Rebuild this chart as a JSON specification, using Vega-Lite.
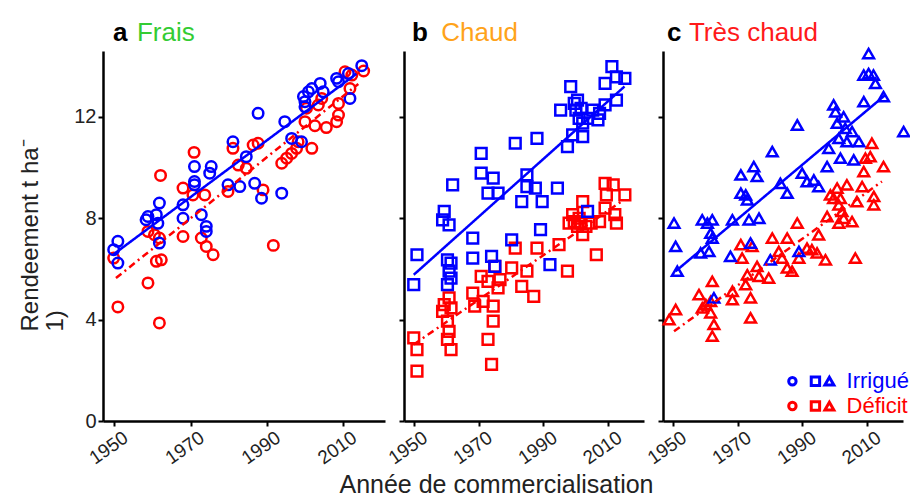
{
"$schema": "https://vega.github.io/schema/vega-lite/v6.json",
"padding": {"left": 18, "top": 19, "right": 0, "bottom": 0},
"spacing": 19,
"bounds": "flush",
"resolve": {"scale": {"x": "independent", "y": "independent"}},
"datasets": {
"one": [{}],
"pts": [
{"panel":"a","group":"Déficit","year":1949.8,"yield":6.43},{"panel":"a","group":"Déficit","year":1950.9,"yield":4.5},{"panel":"a","group":"Déficit","year":1958.8,"yield":5.45},{"panel":"a","group":"Déficit","year":1961.8,"yield":3.87},{"panel":"a","group":"Déficit","year":1962.1,"yield":9.69},{"panel":"a","group":"Déficit","year":1961,"yield":6.3},{"panel":"a","group":"Déficit","year":1962.3,"yield":6.36},{"panel":"a","group":"Déficit","year":1958.8,"yield":7.48},{"panel":"a","group":"Déficit","year":1960.5,"yield":7.35},{"panel":"a","group":"Déficit","year":1961.8,"yield":7.22},{"panel":"a","group":"Déficit","year":1968,"yield":9.19},{"panel":"a","group":"Déficit","year":1968,"yield":7.28},{"panel":"a","group":"Déficit","year":1970.9,"yield":10.6},{"panel":"a","group":"Déficit","year":1970.6,"yield":8.92},{"panel":"a","group":"Déficit","year":1972.8,"yield":7.22},{"panel":"a","group":"Déficit","year":1973.7,"yield":8.92},{"panel":"a","group":"Déficit","year":1974.1,"yield":6.89},{"panel":"a","group":"Déficit","year":1975.9,"yield":6.56},{"panel":"a","group":"Déficit","year":1979.8,"yield":9.06},{"panel":"a","group":"Déficit","year":1981.1,"yield":10.76},{"panel":"a","group":"Déficit","year":1982.5,"yield":10.1},{"panel":"a","group":"Déficit","year":1984.6,"yield":9.97},{"panel":"a","group":"Déficit","year":1986.4,"yield":10.89},{"panel":"a","group":"Déficit","year":1987.7,"yield":10.96},{"panel":"a","group":"Déficit","year":1989,"yield":9.12},{"panel":"a","group":"Déficit","year":1991.7,"yield":6.93},{"panel":"a","group":"Déficit","year":1993.9,"yield":10.17},{"panel":"a","group":"Déficit","year":1995.2,"yield":10.37},{"panel":"a","group":"Déficit","year":1996.5,"yield":10.56},{"panel":"a","group":"Déficit","year":1997.8,"yield":10.76},{"panel":"a","group":"Déficit","year":1998.2,"yield":11.02},{"panel":"a","group":"Déficit","year":2001.8,"yield":10.76},{"panel":"a","group":"Déficit","year":2000,"yield":11.81},{"panel":"a","group":"Déficit","year":2000.4,"yield":12.34},{"panel":"a","group":"Déficit","year":2002.6,"yield":11.65},{"panel":"a","group":"Déficit","year":2004.4,"yield":12.73},{"panel":"a","group":"Déficit","year":2005.6,"yield":11.58},{"panel":"a","group":"Déficit","year":2008.3,"yield":11.81},{"panel":"a","group":"Déficit","year":2008.8,"yield":12.07},{"panel":"a","group":"Déficit","year":2008.8,"yield":12.53},{"panel":"a","group":"Déficit","year":2010.5,"yield":13.78},{"panel":"a","group":"Déficit","year":2011.8,"yield":13.12},{"panel":"a","group":"Déficit","year":2012.3,"yield":13.65},{"panel":"a","group":"Déficit","year":2015.4,"yield":13.81},{"panel":"a","group":"Déficit","year":2003.5,"yield":12.47},
{"panel":"a","group":"Irrigué","year":1950.9,"yield":7.09},{"panel":"a","group":"Irrigué","year":1949.8,"yield":6.76},{"panel":"a","group":"Irrigué","year":1950.9,"yield":6.23},{"panel":"a","group":"Irrigué","year":1958.8,"yield":8.07},{"panel":"a","group":"Irrigué","year":1958.3,"yield":7.94},{"panel":"a","group":"Irrigué","year":1961,"yield":8.14},{"panel":"a","group":"Irrigué","year":1961.8,"yield":8.6},{"panel":"a","group":"Irrigué","year":1961.4,"yield":7.8},{"panel":"a","group":"Irrigué","year":1961.8,"yield":7.02},{"panel":"a","group":"Irrigué","year":1968,"yield":8.53},{"panel":"a","group":"Irrigué","year":1968,"yield":8.0},{"panel":"a","group":"Irrigué","year":1971,"yield":10.04},{"panel":"a","group":"Irrigué","year":1971,"yield":9.45},{"panel":"a","group":"Irrigué","year":1971,"yield":9.32},{"panel":"a","group":"Irrigué","year":1972.8,"yield":8.14},{"panel":"a","group":"Irrigué","year":1974.1,"yield":7.68},{"panel":"a","group":"Irrigué","year":1974.1,"yield":7.48},{"panel":"a","group":"Irrigué","year":1975.4,"yield":10.04},{"panel":"a","group":"Irrigué","year":1975,"yield":9.78},{"panel":"a","group":"Irrigué","year":1979.8,"yield":9.32},{"panel":"a","group":"Irrigué","year":1981.1,"yield":11.02},{"panel":"a","group":"Irrigué","year":1982.9,"yield":9.25},{"panel":"a","group":"Irrigué","year":1984.6,"yield":10.43},{"panel":"a","group":"Irrigué","year":1986.8,"yield":9.38},{"panel":"a","group":"Irrigué","year":1987.7,"yield":12.14},{"panel":"a","group":"Irrigué","year":1988.6,"yield":8.79},{"panel":"a","group":"Irrigué","year":1993.9,"yield":8.99},{"panel":"a","group":"Irrigué","year":1994.7,"yield":11.81},{"panel":"a","group":"Irrigué","year":1996.5,"yield":11.15},{"panel":"a","group":"Irrigué","year":1999.1,"yield":11.02},{"panel":"a","group":"Irrigué","year":1999.6,"yield":12.8},{"panel":"a","group":"Irrigué","year":2000,"yield":12.6},{"panel":"a","group":"Irrigué","year":2000.9,"yield":12.99},{"panel":"a","group":"Irrigué","year":2001.8,"yield":13.12},{"panel":"a","group":"Irrigué","year":2004,"yield":13.32},{"panel":"a","group":"Irrigué","year":2000,"yield":12.4},{"panel":"a","group":"Irrigué","year":2004.8,"yield":12.99},{"panel":"a","group":"Irrigué","year":2008.3,"yield":13.52},{"panel":"a","group":"Irrigué","year":2008.8,"yield":13.39},{"panel":"a","group":"Irrigué","year":2011.4,"yield":13.71},{"panel":"a","group":"Irrigué","year":2011.8,"yield":12.73},{"panel":"a","group":"Irrigué","year":2014.9,"yield":14.02},
{"panel":"b","group":"Déficit","year":1950,"yield":3.28},{"panel":"b","group":"Déficit","year":1951,"yield":2.82},{"panel":"b","group":"Déficit","year":1951,"yield":1.97},{"panel":"b","group":"Déficit","year":1958.9,"yield":4.33},{"panel":"b","group":"Déficit","year":1959.4,"yield":4.59},{"panel":"b","group":"Déficit","year":1960.9,"yield":4.86},{"panel":"b","group":"Déficit","year":1961.5,"yield":4.46},{"panel":"b","group":"Déficit","year":1960.4,"yield":3.94},{"panel":"b","group":"Déficit","year":1960.9,"yield":3.54},{"panel":"b","group":"Déficit","year":1960.4,"yield":3.22},{"panel":"b","group":"Déficit","year":1961.5,"yield":2.82},{"panel":"b","group":"Déficit","year":1968.2,"yield":5.05},{"panel":"b","group":"Déficit","year":1968.8,"yield":4.53},{"panel":"b","group":"Déficit","year":1970.8,"yield":5.71},{"panel":"b","group":"Déficit","year":1971.4,"yield":4.72},{"panel":"b","group":"Déficit","year":1972.9,"yield":5.51},{"panel":"b","group":"Déficit","year":1974.5,"yield":4.53},{"panel":"b","group":"Déficit","year":1974.5,"yield":3.94},{"panel":"b","group":"Déficit","year":1972.9,"yield":3.22},{"panel":"b","group":"Déficit","year":1974,"yield":2.23},{"panel":"b","group":"Déficit","year":1975,"yield":6.1},{"panel":"b","group":"Déficit","year":1976.6,"yield":5.58},{"panel":"b","group":"Déficit","year":1976,"yield":5.25},{"panel":"b","group":"Déficit","year":1980.2,"yield":6.04},{"panel":"b","group":"Déficit","year":1981.3,"yield":6.82},{"panel":"b","group":"Déficit","year":1983.3,"yield":5.31},{"panel":"b","group":"Déficit","year":1984.9,"yield":5.91},{"panel":"b","group":"Déficit","year":1987,"yield":4.92},{"panel":"b","group":"Déficit","year":1988,"yield":6.82},{"panel":"b","group":"Déficit","year":1994.8,"yield":6.96},{"panel":"b","group":"Déficit","year":1997.4,"yield":5.91},{"panel":"b","group":"Déficit","year":1997.9,"yield":7.81},{"panel":"b","group":"Déficit","year":1999,"yield":8.14},{"panel":"b","group":"Déficit","year":1999.5,"yield":7.87},{"panel":"b","group":"Déficit","year":2000.5,"yield":7.68},{"panel":"b","group":"Déficit","year":2001,"yield":8.0},{"panel":"b","group":"Déficit","year":2001.6,"yield":7.81},{"panel":"b","group":"Déficit","year":2002.1,"yield":8.66},{"panel":"b","group":"Déficit","year":2002.1,"yield":7.35},{"panel":"b","group":"Déficit","year":2003.1,"yield":7.68},{"panel":"b","group":"Déficit","year":2004.7,"yield":7.81},{"panel":"b","group":"Déficit","year":2006.3,"yield":6.56},{"panel":"b","group":"Déficit","year":2007.3,"yield":7.87},{"panel":"b","group":"Déficit","year":2009,"yield":9.38},{"panel":"b","group":"Déficit","year":2009,"yield":8.4},{"panel":"b","group":"Déficit","year":2009.4,"yield":8.92},{"panel":"b","group":"Déficit","year":2011.5,"yield":9.32},{"panel":"b","group":"Déficit","year":2012,"yield":8.14},{"panel":"b","group":"Déficit","year":2012.5,"yield":7.81},{"panel":"b","group":"Déficit","year":2015.1,"yield":8.92},
{"panel":"b","group":"Irrigué","year":1951,"yield":6.56},{"panel":"b","group":"Irrigué","year":1950,"yield":5.38},{"panel":"b","group":"Irrigué","year":1959.4,"yield":8.27},{"panel":"b","group":"Irrigué","year":1958.9,"yield":7.94},{"panel":"b","group":"Irrigué","year":1960.9,"yield":7.74},{"panel":"b","group":"Irrigué","year":1962,"yield":9.32},{"panel":"b","group":"Irrigué","year":1960.4,"yield":6.36},{"panel":"b","group":"Irrigué","year":1961.5,"yield":6.23},{"panel":"b","group":"Irrigué","year":1960.9,"yield":5.91},{"panel":"b","group":"Irrigué","year":1961.5,"yield":5.64},{"panel":"b","group":"Irrigué","year":1960.4,"yield":5.38},{"panel":"b","group":"Irrigué","year":1968.2,"yield":7.22},{"panel":"b","group":"Irrigué","year":1968.2,"yield":6.43},{"panel":"b","group":"Irrigué","year":1970.8,"yield":10.56},{"panel":"b","group":"Irrigué","year":1970.8,"yield":9.78},{"panel":"b","group":"Irrigué","year":1974.5,"yield":9.58},{"panel":"b","group":"Irrigué","year":1972.9,"yield":8.99},{"panel":"b","group":"Irrigué","year":1976,"yield":8.99},{"panel":"b","group":"Irrigué","year":1974,"yield":6.5},{"panel":"b","group":"Irrigué","year":1975,"yield":6.1},{"panel":"b","group":"Irrigué","year":1980.2,"yield":7.15},{"panel":"b","group":"Irrigué","year":1981.3,"yield":10.96},{"panel":"b","group":"Irrigué","year":1983.3,"yield":8.66},{"panel":"b","group":"Irrigué","year":1984.9,"yield":9.71},{"panel":"b","group":"Irrigué","year":1984.9,"yield":9.25},{"panel":"b","group":"Irrigué","year":1988,"yield":11.15},{"panel":"b","group":"Irrigué","year":1987.5,"yield":9.19},{"panel":"b","group":"Irrigué","year":1989.6,"yield":8.66},{"panel":"b","group":"Irrigué","year":1989.1,"yield":7.55},{"panel":"b","group":"Irrigué","year":1992,"yield":6.17},{"panel":"b","group":"Irrigué","year":1994.3,"yield":9.19},{"panel":"b","group":"Irrigué","year":1995.3,"yield":12.27},{"panel":"b","group":"Irrigué","year":1997.4,"yield":10.83},{"panel":"b","group":"Irrigué","year":1998.4,"yield":13.19},{"panel":"b","group":"Irrigué","year":1999,"yield":11.29},{"panel":"b","group":"Irrigué","year":1999.5,"yield":12.53},{"panel":"b","group":"Irrigué","year":2000,"yield":12.27},{"panel":"b","group":"Irrigué","year":2000.5,"yield":12.66},{"panel":"b","group":"Irrigué","year":2001,"yield":11.94},{"panel":"b","group":"Irrigué","year":2001.6,"yield":12.34},{"panel":"b","group":"Irrigué","year":2002.1,"yield":11.22},{"panel":"b","group":"Irrigué","year":2002.1,"yield":11.75},{"panel":"b","group":"Irrigué","year":2003.6,"yield":11.94},{"panel":"b","group":"Irrigué","year":2003.6,"yield":8.27},{"panel":"b","group":"Irrigué","year":2005.2,"yield":12.27},{"panel":"b","group":"Irrigué","year":2006.8,"yield":11.88},{"panel":"b","group":"Irrigué","year":2007.3,"yield":12.14},{"panel":"b","group":"Irrigué","year":2009,"yield":13.32},{"panel":"b","group":"Irrigué","year":2009,"yield":12.47},{"panel":"b","group":"Irrigué","year":2011.1,"yield":13.98},{"panel":"b","group":"Irrigué","year":2012.5,"yield":13.58},{"panel":"b","group":"Irrigué","year":2015.1,"yield":13.52},{"panel":"b","group":"Irrigué","year":2012.5,"yield":12.66},
{"panel":"c","group":"Déficit","year":1948.9,"yield":4.0},{"panel":"c","group":"Déficit","year":1950.9,"yield":4.4},{"panel":"c","group":"Déficit","year":1958.1,"yield":4.99},{"panel":"c","group":"Déficit","year":1959.1,"yield":4.46},{"panel":"c","group":"Déficit","year":1960.2,"yield":4.59},{"panel":"c","group":"Déficit","year":1961.7,"yield":4.27},{"panel":"c","group":"Déficit","year":1961.7,"yield":4.72},{"panel":"c","group":"Déficit","year":1962.2,"yield":5.51},{"panel":"c","group":"Déficit","year":1962.7,"yield":3.81},{"panel":"c","group":"Déficit","year":1962.2,"yield":3.35},{"panel":"c","group":"Déficit","year":1968.4,"yield":5.12},{"panel":"c","group":"Déficit","year":1968.4,"yield":4.79},{"panel":"c","group":"Déficit","year":1971,"yield":6.96},{"panel":"c","group":"Déficit","year":1971.4,"yield":6.43},{"panel":"c","group":"Déficit","year":1973,"yield":5.77},{"panel":"c","group":"Déficit","year":1972.5,"yield":5.38},{"panel":"c","group":"Déficit","year":1974,"yield":4.86},{"panel":"c","group":"Déficit","year":1974,"yield":4.07},{"panel":"c","group":"Déficit","year":1974.5,"yield":6.89},{"panel":"c","group":"Déficit","year":1976,"yield":6.1},{"panel":"c","group":"Déficit","year":1976.6,"yield":5.71},{"panel":"c","group":"Déficit","year":1979.6,"yield":5.64},{"panel":"c","group":"Déficit","year":1980.7,"yield":7.22},{"panel":"c","group":"Déficit","year":1982.7,"yield":6.69},{"panel":"c","group":"Déficit","year":1983.7,"yield":6.43},{"panel":"c","group":"Déficit","year":1985.3,"yield":7.22},{"panel":"c","group":"Déficit","year":1985.3,"yield":6.04},{"panel":"c","group":"Déficit","year":1986.8,"yield":5.91},{"panel":"c","group":"Déficit","year":1988.4,"yield":7.81},{"panel":"c","group":"Déficit","year":1988.9,"yield":6.43},{"panel":"c","group":"Déficit","year":1991.4,"yield":6.82},{"panel":"c","group":"Déficit","year":1992.9,"yield":6.76},{"panel":"c","group":"Déficit","year":1994.5,"yield":6.63},{"panel":"c","group":"Déficit","year":1995,"yield":7.35},{"panel":"c","group":"Déficit","year":1997.1,"yield":6.36},{"panel":"c","group":"Déficit","year":1997.6,"yield":8.07},{"panel":"c","group":"Déficit","year":1998.6,"yield":8.92},{"panel":"c","group":"Déficit","year":1999.6,"yield":8.79},{"panel":"c","group":"Déficit","year":2000.7,"yield":9.19},{"panel":"c","group":"Déficit","year":2001.2,"yield":8.53},{"panel":"c","group":"Déficit","year":2001.7,"yield":8.79},{"panel":"c","group":"Déficit","year":2002.2,"yield":8.27},{"panel":"c","group":"Déficit","year":2001.2,"yield":7.81},{"panel":"c","group":"Déficit","year":2002.7,"yield":8.0},{"panel":"c","group":"Déficit","year":2003.7,"yield":9.32},{"panel":"c","group":"Déficit","year":2005.3,"yield":7.87},{"panel":"c","group":"Déficit","year":2006.3,"yield":6.43},{"panel":"c","group":"Déficit","year":2006.8,"yield":8.66},{"panel":"c","group":"Déficit","year":2008.4,"yield":9.25},{"panel":"c","group":"Déficit","year":2008.9,"yield":9.84},{"panel":"c","group":"Déficit","year":2009.4,"yield":10.37},{"panel":"c","group":"Déficit","year":2010.9,"yield":10.43},{"panel":"c","group":"Déficit","year":2011.4,"yield":10.96},{"panel":"c","group":"Déficit","year":2012,"yield":8.86},{"panel":"c","group":"Déficit","year":2012,"yield":8.53},{"panel":"c","group":"Déficit","year":2015,"yield":10.04},
{"panel":"c","group":"Irrigué","year":1950.4,"yield":7.81},{"panel":"c","group":"Irrigué","year":1950.9,"yield":6.89},{"panel":"c","group":"Irrigué","year":1951.4,"yield":5.91},{"panel":"c","group":"Irrigué","year":1959.1,"yield":7.94},{"panel":"c","group":"Irrigué","year":1958.6,"yield":6.63},{"panel":"c","group":"Irrigué","year":1960.7,"yield":7.81},{"panel":"c","group":"Irrigué","year":1962.2,"yield":7.94},{"panel":"c","group":"Irrigué","year":1961.7,"yield":7.41},{"panel":"c","group":"Irrigué","year":1962.2,"yield":7.22},{"panel":"c","group":"Irrigué","year":1961.2,"yield":6.69},{"panel":"c","group":"Irrigué","year":1962.7,"yield":4.86},{"panel":"c","group":"Irrigué","year":1967.8,"yield":6.5},{"panel":"c","group":"Irrigué","year":1968.4,"yield":7.94},{"panel":"c","group":"Irrigué","year":1971,"yield":9.71},{"panel":"c","group":"Irrigué","year":1971,"yield":8.99},{"panel":"c","group":"Irrigué","year":1972.5,"yield":8.92},{"panel":"c","group":"Irrigué","year":1973.5,"yield":7.94},{"panel":"c","group":"Irrigué","year":1974,"yield":7.02},{"panel":"c","group":"Irrigué","year":1973,"yield":8.73},{"panel":"c","group":"Irrigué","year":1975,"yield":10.04},{"panel":"c","group":"Irrigué","year":1976,"yield":9.65},{"panel":"c","group":"Irrigué","year":1976.6,"yield":8.0},{"panel":"c","group":"Irrigué","year":1980.1,"yield":6.36},{"panel":"c","group":"Irrigué","year":1980.7,"yield":10.63},{"panel":"c","group":"Irrigué","year":1983.2,"yield":9.38},{"panel":"c","group":"Irrigué","year":1985.3,"yield":8.99},{"panel":"c","group":"Irrigué","year":1988.4,"yield":11.68},{"panel":"c","group":"Irrigué","year":1988.9,"yield":6.69},{"panel":"c","group":"Irrigué","year":1989.9,"yield":9.78},{"panel":"c","group":"Irrigué","year":1991.4,"yield":9.45},{"panel":"c","group":"Irrigué","year":1993.5,"yield":9.51},{"panel":"c","group":"Irrigué","year":1995,"yield":9.25},{"panel":"c","group":"Irrigué","year":1997.6,"yield":10.04},{"panel":"c","group":"Irrigué","year":1998.1,"yield":10.76},{"panel":"c","group":"Irrigué","year":1999.6,"yield":12.47},{"panel":"c","group":"Irrigué","year":2000.2,"yield":12.2},{"panel":"c","group":"Irrigué","year":2000.7,"yield":11.75},{"panel":"c","group":"Irrigué","year":2001.2,"yield":11.15},{"panel":"c","group":"Irrigué","year":2001.7,"yield":10.37},{"panel":"c","group":"Irrigué","year":2002.7,"yield":12.0},{"panel":"c","group":"Irrigué","year":2003.2,"yield":11.55},{"panel":"c","group":"Irrigué","year":2003.7,"yield":11.02},{"panel":"c","group":"Irrigué","year":2005.3,"yield":11.42},{"panel":"c","group":"Irrigué","year":2005.8,"yield":10.3},{"panel":"c","group":"Irrigué","year":2007.4,"yield":11.02},{"panel":"c","group":"Irrigué","year":2008.9,"yield":12.6},{"panel":"c","group":"Irrigué","year":2008.9,"yield":13.65},{"panel":"c","group":"Irrigué","year":2010.4,"yield":14.5},{"panel":"c","group":"Irrigué","year":2010.4,"yield":13.71},{"panel":"c","group":"Irrigué","year":2011.9,"yield":13.65},{"panel":"c","group":"Irrigué","year":2012.5,"yield":13.32},{"panel":"c","group":"Irrigué","year":2015,"yield":12.8},{"panel":"c","group":"Irrigué","year":2021.2,"yield":11.42}
],
"fits": [
{"panel":"a","group":"Irrigué","year":1949.7,"yield":6.57},{"panel":"a","group":"Irrigué","year":2013.5,"yield":13.7},
{"panel":"a","group":"Déficit","year":1950.4,"yield":5.64},{"panel":"a","group":"Déficit","year":2014,"yield":13.3},
{"panel":"b","group":"Irrigué","year":1950,"yield":5.77},{"panel":"b","group":"Irrigué","year":2015,"yield":13.2},
{"panel":"b","group":"Déficit","year":1950,"yield":3.02},{"panel":"b","group":"Déficit","year":2014,"yield":8.66},
{"panel":"c","group":"Irrigué","year":1950.9,"yield":5.91},{"panel":"c","group":"Irrigué","year":2015.5,"yield":12.86},
{"panel":"c","group":"Déficit","year":1950.4,"yield":3.54},{"panel":"c","group":"Déficit","year":2014.5,"yield":9.45}
]
},
"hconcat": [
{
"width": 282, "height": 370,
"layer": [
{"data": {"name": "pts"}, "transform": [{"filter": "datum.panel == 'a'"}],
 "mark": {"type": "point", "shape": "circle", "filled": false, "strokeWidth": 2.5, "size": 110, "opacity": 1},
 "encoding": {
  "x": {"field": "year", "type": "quantitative", "scale": {"domain": [1947, 2021], "nice": false, "zero": false},
        "axis": {"values": [1950, 1970, 1990, 2010], "format": "d", "labelAngle": -35, "labelAlign": "right", "labelBaseline": "top", "labelOffset": 6, "title": null}},
  "y": {"field": "yield", "type": "quantitative", "scale": {"domain": [0, 14.6], "nice": false},
        "axis": {"values": [0, 4, 8, 12], "labelFontSize": 20, "title": ["Rendeement t ha⁻", "1)"], "titleFontSize": 24, "titleAlign": "left", "titleAngle": -90, "titleX": -61, "titleY": 280, "titleBaseline": "bottom", "titleLineHeight": 25}},
  "color": {"field": "group", "type": "nominal", "scale": {"domain": ["Irrigué", "Déficit"], "range": ["#0000ff", "#ff0000"]}, "legend": null}
 }},
{"data": {"name": "fits"}, "transform": [{"filter": "datum.panel == 'a'"}],
 "mark": {"type": "line", "strokeWidth": 2.5},
 "encoding": {
  "x": {"field": "year", "type": "quantitative"},
  "y": {"field": "yield", "type": "quantitative"},
  "color": {"field": "group", "type": "nominal", "legend": null},
  "strokeDash": {"field": "group", "type": "nominal", "scale": {"domain": ["Irrigué", "Déficit"], "range": [[1, 0], [7, 4, 2, 4]]}, "legend": null}
 }},
{"data": {"name": "one"}, "mark": {"type": "text", "text": "a", "fontWeight": "bold", "fontSize": 26, "align": "left", "baseline": "alphabetic", "color": "black"},
 "encoding": {"x": {"datum": 1949.6}, "y": {"datum": 15.0}}},
{"data": {"name": "one"}, "mark": {"type": "text", "text": "Frais", "fontSize": 26, "align": "left", "baseline": "alphabetic", "color": "#33cc33"},
 "encoding": {"x": {"datum": 1955.9}, "y": {"datum": 15.0}}}
]
},
{
"width": 240, "height": 370,
"layer": [
{"data": {"name": "pts"}, "transform": [{"filter": "datum.panel == 'b'"}],
 "mark": {"type": "point", "shape": "square", "filled": false, "strokeWidth": 2.5, "size": 115, "opacity": 1},
 "encoding": {
  "x": {"field": "year", "type": "quantitative", "scale": {"domain": [1947, 2021], "nice": false, "zero": false},
        "axis": {"values": [1950, 1970, 1990, 2010], "format": "d", "labelAngle": -35, "labelAlign": "right", "labelBaseline": "top", "labelOffset": 6, "title": "Année de commercialisation", "titleFontSize": 25, "titleX": 92, "titleY": 71, "titleBaseline": "alphabetic"}},
  "y": {"field": "yield", "type": "quantitative", "scale": {"domain": [0, 14.6], "nice": false},
        "axis": {"values": [0, 4, 8, 12], "labels": false, "title": null}},
  "color": {"field": "group", "type": "nominal", "scale": {"domain": ["Irrigué", "Déficit"], "range": ["#0000ff", "#ff0000"]}, "legend": null}
 }},
{"data": {"name": "fits"}, "transform": [{"filter": "datum.panel == 'b'"}],
 "mark": {"type": "line", "strokeWidth": 2.5},
 "encoding": {
  "x": {"field": "year", "type": "quantitative"},
  "y": {"field": "yield", "type": "quantitative"},
  "color": {"field": "group", "type": "nominal", "legend": null},
  "strokeDash": {"field": "group", "type": "nominal", "scale": {"domain": ["Irrigué", "Déficit"], "range": [[1, 0], [7, 4, 2, 4]]}, "legend": null}
 }},
{"data": {"name": "one"}, "mark": {"type": "text", "text": "b", "fontWeight": "bold", "fontSize": 26, "align": "left", "baseline": "alphabetic", "color": "black"},
 "encoding": {"x": {"datum": 1949.5}, "y": {"datum": 15.0}}},
{"data": {"name": "one"}, "mark": {"type": "text", "text": "Chaud", "fontSize": 26, "align": "left", "baseline": "alphabetic", "color": "#ffa31a"},
 "encoding": {"x": {"datum": 1958.5}, "y": {"datum": 15.0}}}
]
},
{
"width": 240, "height": 370,
"layer": [
{"data": {"name": "pts"}, "transform": [{"filter": "datum.panel == 'c'"}],
 "mark": {"type": "point", "shape": "triangle-up", "filled": false, "strokeWidth": 2.5, "size": 115, "opacity": 1},
 "encoding": {
  "x": {"field": "year", "type": "quantitative", "scale": {"domain": [1947, 2021], "nice": false, "zero": false},
        "axis": {"values": [1950, 1970, 1990, 2010], "format": "d", "labelAngle": -35, "labelAlign": "right", "labelBaseline": "top", "labelOffset": 6, "title": null}},
  "y": {"field": "yield", "type": "quantitative", "scale": {"domain": [0, 14.6], "nice": false},
        "axis": {"values": [0, 4, 8, 12], "labels": false, "title": null}},
  "color": {"field": "group", "type": "nominal", "scale": {"domain": ["Irrigué", "Déficit"], "range": ["#0000ff", "#ff0000"]}, "legend": null}
 }},
{"data": {"name": "fits"}, "transform": [{"filter": "datum.panel == 'c'"}],
 "mark": {"type": "line", "strokeWidth": 2.5},
 "encoding": {
  "x": {"field": "year", "type": "quantitative"},
  "y": {"field": "yield", "type": "quantitative"},
  "color": {"field": "group", "type": "nominal", "legend": null},
  "strokeDash": {"field": "group", "type": "nominal", "scale": {"domain": ["Irrigué", "Déficit"], "range": [[1, 0], [7, 4, 2, 4]]}, "legend": null}
 }},
{"data": {"name": "one"}, "mark": {"type": "text", "text": "c", "fontWeight": "bold", "fontSize": 26, "align": "left", "baseline": "alphabetic", "color": "black"},
 "encoding": {"x": {"datum": 1948.2}, "y": {"datum": 15.0}}},
{"data": {"name": "one"}, "mark": {"type": "text", "text": "Très chaud", "fontSize": 26, "align": "left", "baseline": "alphabetic", "color": "#ff1a1a"},
 "encoding": {"x": {"datum": 1955.0}, "y": {"datum": 15.0}}},
{"data": {"name": "one"}, "mark": {"type": "point", "shape": "circle", "filled": false, "strokeWidth": 3, "size": 55, "color": "#0000ff", "opacity": 1},
 "encoding": {"x": {"datum": 1986.9}, "y": {"datum": 1.57}}},
{"data": {"name": "one"}, "mark": {"type": "point", "shape": "square", "filled": false, "strokeWidth": 3, "size": 70, "color": "#0000ff", "opacity": 1},
 "encoding": {"x": {"datum": 1994}, "y": {"datum": 1.57}}},
{"data": {"name": "one"}, "mark": {"type": "point", "shape": "triangle-up", "filled": false, "strokeWidth": 3, "size": 80, "color": "#0000ff", "opacity": 1},
 "encoding": {"x": {"datum": 1998.3}, "y": {"datum": 1.57}}},
{"data": {"name": "one"}, "mark": {"type": "text", "text": "Irrigué", "fontSize": 22, "align": "left", "baseline": "middle", "color": "#0000ff"},
 "encoding": {"x": {"datum": 2003.6}, "y": {"datum": 1.57}}},
{"data": {"name": "one"}, "mark": {"type": "point", "shape": "circle", "filled": false, "strokeWidth": 3, "size": 55, "color": "#ff0000", "opacity": 1},
 "encoding": {"x": {"datum": 1986.9}, "y": {"datum": 0.59}}},
{"data": {"name": "one"}, "mark": {"type": "point", "shape": "square", "filled": false, "strokeWidth": 3, "size": 70, "color": "#ff0000", "opacity": 1},
 "encoding": {"x": {"datum": 1994}, "y": {"datum": 0.59}}},
{"data": {"name": "one"}, "mark": {"type": "point", "shape": "triangle-up", "filled": false, "strokeWidth": 3, "size": 80, "color": "#ff0000", "opacity": 1},
 "encoding": {"x": {"datum": 1998.3}, "y": {"datum": 0.59}}},
{"data": {"name": "one"}, "mark": {"type": "text", "text": "Déficit", "fontSize": 22, "align": "left", "baseline": "middle", "color": "#ff0000"},
 "encoding": {"x": {"datum": 2003.6}, "y": {"datum": 0.59}}}
]
}
],
"config": {
 "font": "Liberation Sans",
 "view": {"stroke": null},
 "axis": {"grid": false, "domainColor": "black", "domainWidth": 2.5, "tickColor": "black", "tickWidth": 2, "tickSize": 5, "labelFont": "Liberation Sans", "labelFontSize": 19, "labelColor": "#222222", "titleFont": "Liberation Sans", "titleFontWeight": "normal", "titleColor": "#222222"}
}
}
